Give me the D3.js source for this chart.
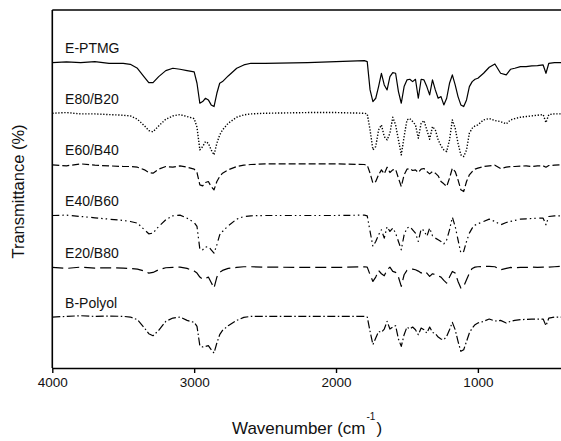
<!DOCTYPE html>
<html>
<head>
<meta charset="utf-8">
<script src="https://cdn.jsdelivr.net/npm/d3@7"></script>
<style>
body { margin: 0; background: #fff; }
svg { display: block; font-family: "Liberation Sans", Arial, sans-serif; }
</style>
</head>
<body>
<svg id="chart" width="561" height="441"></svg>
<script>
'use strict';

// wavenumber grid (cm-1) shared by all spectra
var wavenumbers = [4000, 3900, 3800, 3700, 3600, 3500, 3450, 3400, 3350, 3320, 3290, 3250, 3200, 3150, 3100, 3050, 3000,
	2980, 2960, 2940, 2920, 2900, 2880, 2860, 2840, 2820, 2800, 2760, 2700, 2650, 2600, 2500, 2200, 2000,
	1800, 1780, 1760, 1740, 1720, 1700, 1680, 1660, 1640, 1620, 1600, 1580, 1560, 1540, 1520, 1500, 1480, 1460, 1440, 1420,
	1400, 1380, 1360, 1340, 1320, 1300, 1280, 1260, 1240, 1220, 1200, 1180, 1160, 1140, 1120, 1100, 1080, 1060, 1040, 1020, 1000,
	960, 920, 880, 840, 800, 770, 740, 700, 660, 620, 580, 540, 520, 500, 460, 420, 400];

// transmittance (stacked, arbitrary %)
var ePTMG = [93.2, 93.4, 93.2, 93.5, 93, 93, 92.7, 91.5, 88.8, 87.2, 87.2, 89, 90.8, 91.5, 91.2, 90.8, 90.4,
	87, 81, 81.5, 82.5, 82, 80.5, 80, 84, 87, 87.5, 89.2, 91.5, 92.5, 93, 93, 93.2, 93.5,
	93.8, 93.5, 85, 81.5, 82.5, 86, 90, 86.5, 85, 89, 90.2, 90, 84.5, 81, 86, 88, 88.2, 87.5, 88.2, 82.5,
	88.2, 88, 86, 83.5, 88, 85, 82.5, 83, 80.5, 82.5, 87, 89.5, 86.5, 83, 80.5, 80, 82, 86, 87.5, 88.2, 88.5,
	90, 91.8, 92.8, 90, 89.5, 91.2, 91.5, 92, 92, 92.2, 92.3, 92.5, 90, 93, 93.2, 93.2, 93.2];

var e80b20 = [78, 78.2, 77.8, 77.8, 77.6, 77.4, 77.2, 76.2, 74.2, 72.8, 72.4, 74.2, 76.2, 77.2, 77.6, 77, 76.4,
	73.8, 67, 68, 69.5, 69, 67, 65.5, 69, 71.5, 73, 75, 76.8, 77.5, 77.8, 78, 78.2, 78.2,
	78, 77.8, 73, 67, 68, 73, 74.5, 71, 70, 72, 76.8, 74.5, 70, 65.5, 71, 76, 76.4, 75.5, 74.5, 70.5,
	75, 75.8, 73, 70.2, 74, 73, 70, 68.2, 67, 66.5, 70, 76, 73.5, 69, 65.5, 65, 67, 72, 73.5, 74.2, 74.5,
	76, 76.4, 75.8, 75.5, 74.8, 76, 76.4, 76.8, 77, 77.2, 77.4, 77.6, 75.2, 77.6, 77.8, 77.8, 77.8];

var e60b40 = [62.5, 62.2, 62.8, 62.4, 62.2, 62, 62, 61.8, 61, 60.2, 60, 61.2, 62, 61.8, 62.2, 61.8, 61.2,
	60.2, 56.5, 56.2, 57.2, 57.5, 56, 55, 57.5, 59, 60, 61, 62, 62.4, 62.6, 62.8, 62.8, 62.8,
	62.6, 62.4, 60, 57, 57.5, 59.5, 61, 59.8, 61.8, 60.2, 61, 61.2, 58.5, 56, 59.5, 61.2, 61.4, 60.8, 61, 60.2,
	61.2, 61.4, 60.5, 59.8, 60.5, 60, 59.2, 57.5, 56.8, 56, 58.5, 61.5, 60.5, 58, 55, 54.5, 57.5, 59.5, 60.5, 61.2, 61.5,
	62, 62.2, 62.4, 61.4, 61.8, 62, 62, 62.1, 62.2, 62, 62.2, 62.2, 61.8, 62.3, 62.4, 62.5, 62.5];

var e40b60 = [47.3, 47.4, 47, 46.6, 46.2, 45.8, 45.5, 45, 43, 41.8, 42, 44, 46, 47.2, 47.4, 46.5, 45.2,
	44, 37.2, 37, 37.8, 38, 37, 36, 38.5, 41.5, 42.5, 44.2, 46.2, 47, 47.2, 47.3, 47.3, 47.3,
	47.4, 47.2, 42.5, 38, 39.5, 41.5, 43, 40.5, 44, 42.5, 43.5, 42, 39.5, 37, 41.5, 43.5, 44, 43, 42, 39.5,
	43.2, 42.8, 41, 43.5, 41.2, 40.5, 40, 39.5, 38.8, 40, 43, 46.8, 44, 40, 36, 36.5, 39.5, 42, 43.5, 44.4, 44.8,
	45.5, 46.2, 45.5, 44.5, 45.2, 45.5, 45.8, 46.2, 46.3, 46.4, 46.5, 46.5, 44.5, 47, 47.2, 47.2, 47.2];

var e20b80 = [31.7, 31.4, 31.8, 31.5, 31.6, 31.5, 31.4, 31.2, 30.6, 30, 30.2, 31, 31.6, 31.7, 31.8, 31.4, 30.6,
	30, 28.8, 28.2, 28.4, 28.8, 27.2, 25.5, 28.8, 30.2, 30.8, 31.4, 31.7, 31.9, 31.9, 31.8, 31.7, 31.7,
	31.9, 31.8, 29.5, 27.5, 28.8, 30.8, 29.8, 29.2, 31, 31.8, 30.5, 30.2, 28.8, 26, 29.5, 30.8, 31, 31.2, 31, 30.6,
	30, 30.5, 30, 29, 29.8, 29.5, 29.2, 28.8, 27.8, 27, 28.8, 30.5, 30, 27.5, 25.5, 26, 28, 30, 31.4, 31.8, 31.9,
	32, 32, 31.9, 31, 31.4, 31.7, 31.6, 31.7, 31.7, 31.8, 31.7, 31.8, 31.6, 31.8, 31.9, 32, 32];

var bPolyol = [16.8, 17, 17.2, 17, 17.1, 17, 16.8, 16, 13.5, 11.8, 11.2, 12.8, 15.5, 16.5, 16.8, 15.8, 15.2,
	14, 8.2, 7.8, 8, 8.2, 7, 6, 9, 11.5, 12.8, 14.2, 15.8, 16.7, 17, 17, 17, 17,
	17, 16.8, 12.5, 8.5, 10.5, 12.5, 12.2, 13.2, 15.5, 13.2, 13.8, 14.2, 10.2, 8, 11.5, 13.8, 13.2, 13.8, 13, 11.5,
	13.5, 13, 12, 13.8, 12.2, 11.8, 10.8, 10.2, 10, 11, 13, 15.2, 13, 9.5, 6.5, 7, 9.5, 12, 13.5, 14.5, 15,
	15.5, 16.2, 15.6, 15.8, 15, 15.5, 15.8, 16, 16.1, 16.2, 16.2, 16.2, 14.2, 16.5, 16.8, 16.8, 16.8];

var seriesNames = ['E-PTMG', 'E80/B20', 'E60/B40', 'E40/B60', 'E20/B80', 'B-Polyol'];
var seriesValues = [ePTMG, e80b20, e60b40, e40b60, e20b80, bPolyol];
var xTicks = [4000, 3000, 2000, 1000];

// line styles per series
var dashes = ['none', '1.3,1.7', '7,3', '7,3,1.5,3,1.5,3.5', '11,5', '8,2.5,1.5,2.5'];

var svg = d3.select('#chart');
var margin = {top: 10, left: 52.3, bottom: 368};

var x = d3.scaleLinear()
	.domain([4000, 400])
	.range([margin.left, 563]);

var y = d3.scaleLinear()
	.domain([1.5, 109])
	.range([margin.bottom, margin.top]);

var line = d3.line()
	.x(function(d) { return x(d[0]); })
	.y(function(d) { return y(d[1]); });

// spectra
seriesValues.forEach(function(vals, i){
	var pts = wavenumbers.map(function(w, j){ return [w, vals[j]]; });

	svg.append('path')
		.datum(pts)
		.attr('fill', 'none')
		.attr('stroke', '#000')
		.attr('stroke-width', i === 1 ? 1.4 : 1.2)
		.attr('stroke-linejoin', 'round')
		.attr('stroke-dasharray', dashes[i])
		.attr('d', line);

	svg.append('text')
		.attr('x', x(3910))
		.attr('y', y(vals[0]) - 9.5)
		.attr('font-size', 14)
		.attr('fill', '#111')
		.text(seriesNames[i]);
});

// frame: top and left
svg.append('line')
	.attr('x1', margin.left).attr('x2', 561)
	.attr('y1', margin.top).attr('y2', margin.top)
	.attr('stroke', '#000').attr('stroke-width', 1.4);

svg.append('line')
	.attr('x1', margin.left).attr('x2', margin.left)
	.attr('y1', margin.top).attr('y2', margin.bottom)
	.attr('stroke', '#000').attr('stroke-width', 1.6);

// x axis
var xAxis = svg.append('g')
	.attr('transform', 'translate(0,' + margin.bottom + ')')
	.call(d3.axisBottom(x)
		.tickValues(xTicks)
		.tickSize(5)
		.tickSizeOuter(0)
		.tickPadding(4)
		.tickFormat(d3.format('d')));

xAxis.select('.domain').attr('stroke-width', 1.6);
xAxis.selectAll('.tick line').attr('stroke-width', 1.4);
xAxis.selectAll('.tick text')
	.attr('font-size', 13.5)
	.attr('font-family', '"Liberation Sans", Arial, sans-serif')
	.attr('fill', '#111');

// axis titles
var xTitle = svg.append('text')
	.attr('x', 232)
	.attr('y', 434)
	.attr('font-size', 17)
	.attr('fill', '#111');
xTitle.append('tspan').text('Wavenumber (cm');
xTitle.append('tspan').attr('font-size', 10).attr('dy', -14).attr('dx', 1).text('-1');
xTitle.append('tspan').attr('dy', 14).attr('dx', 1).text(')');

svg.append('text')
	.attr('transform', 'translate(23.5,191.5) rotate(-90)')
	.attr('text-anchor', 'middle')
	.attr('font-size', 16.5)
	.attr('fill', '#111')
	.text('Transmittance (%)');
</script>
</body>
</html>
